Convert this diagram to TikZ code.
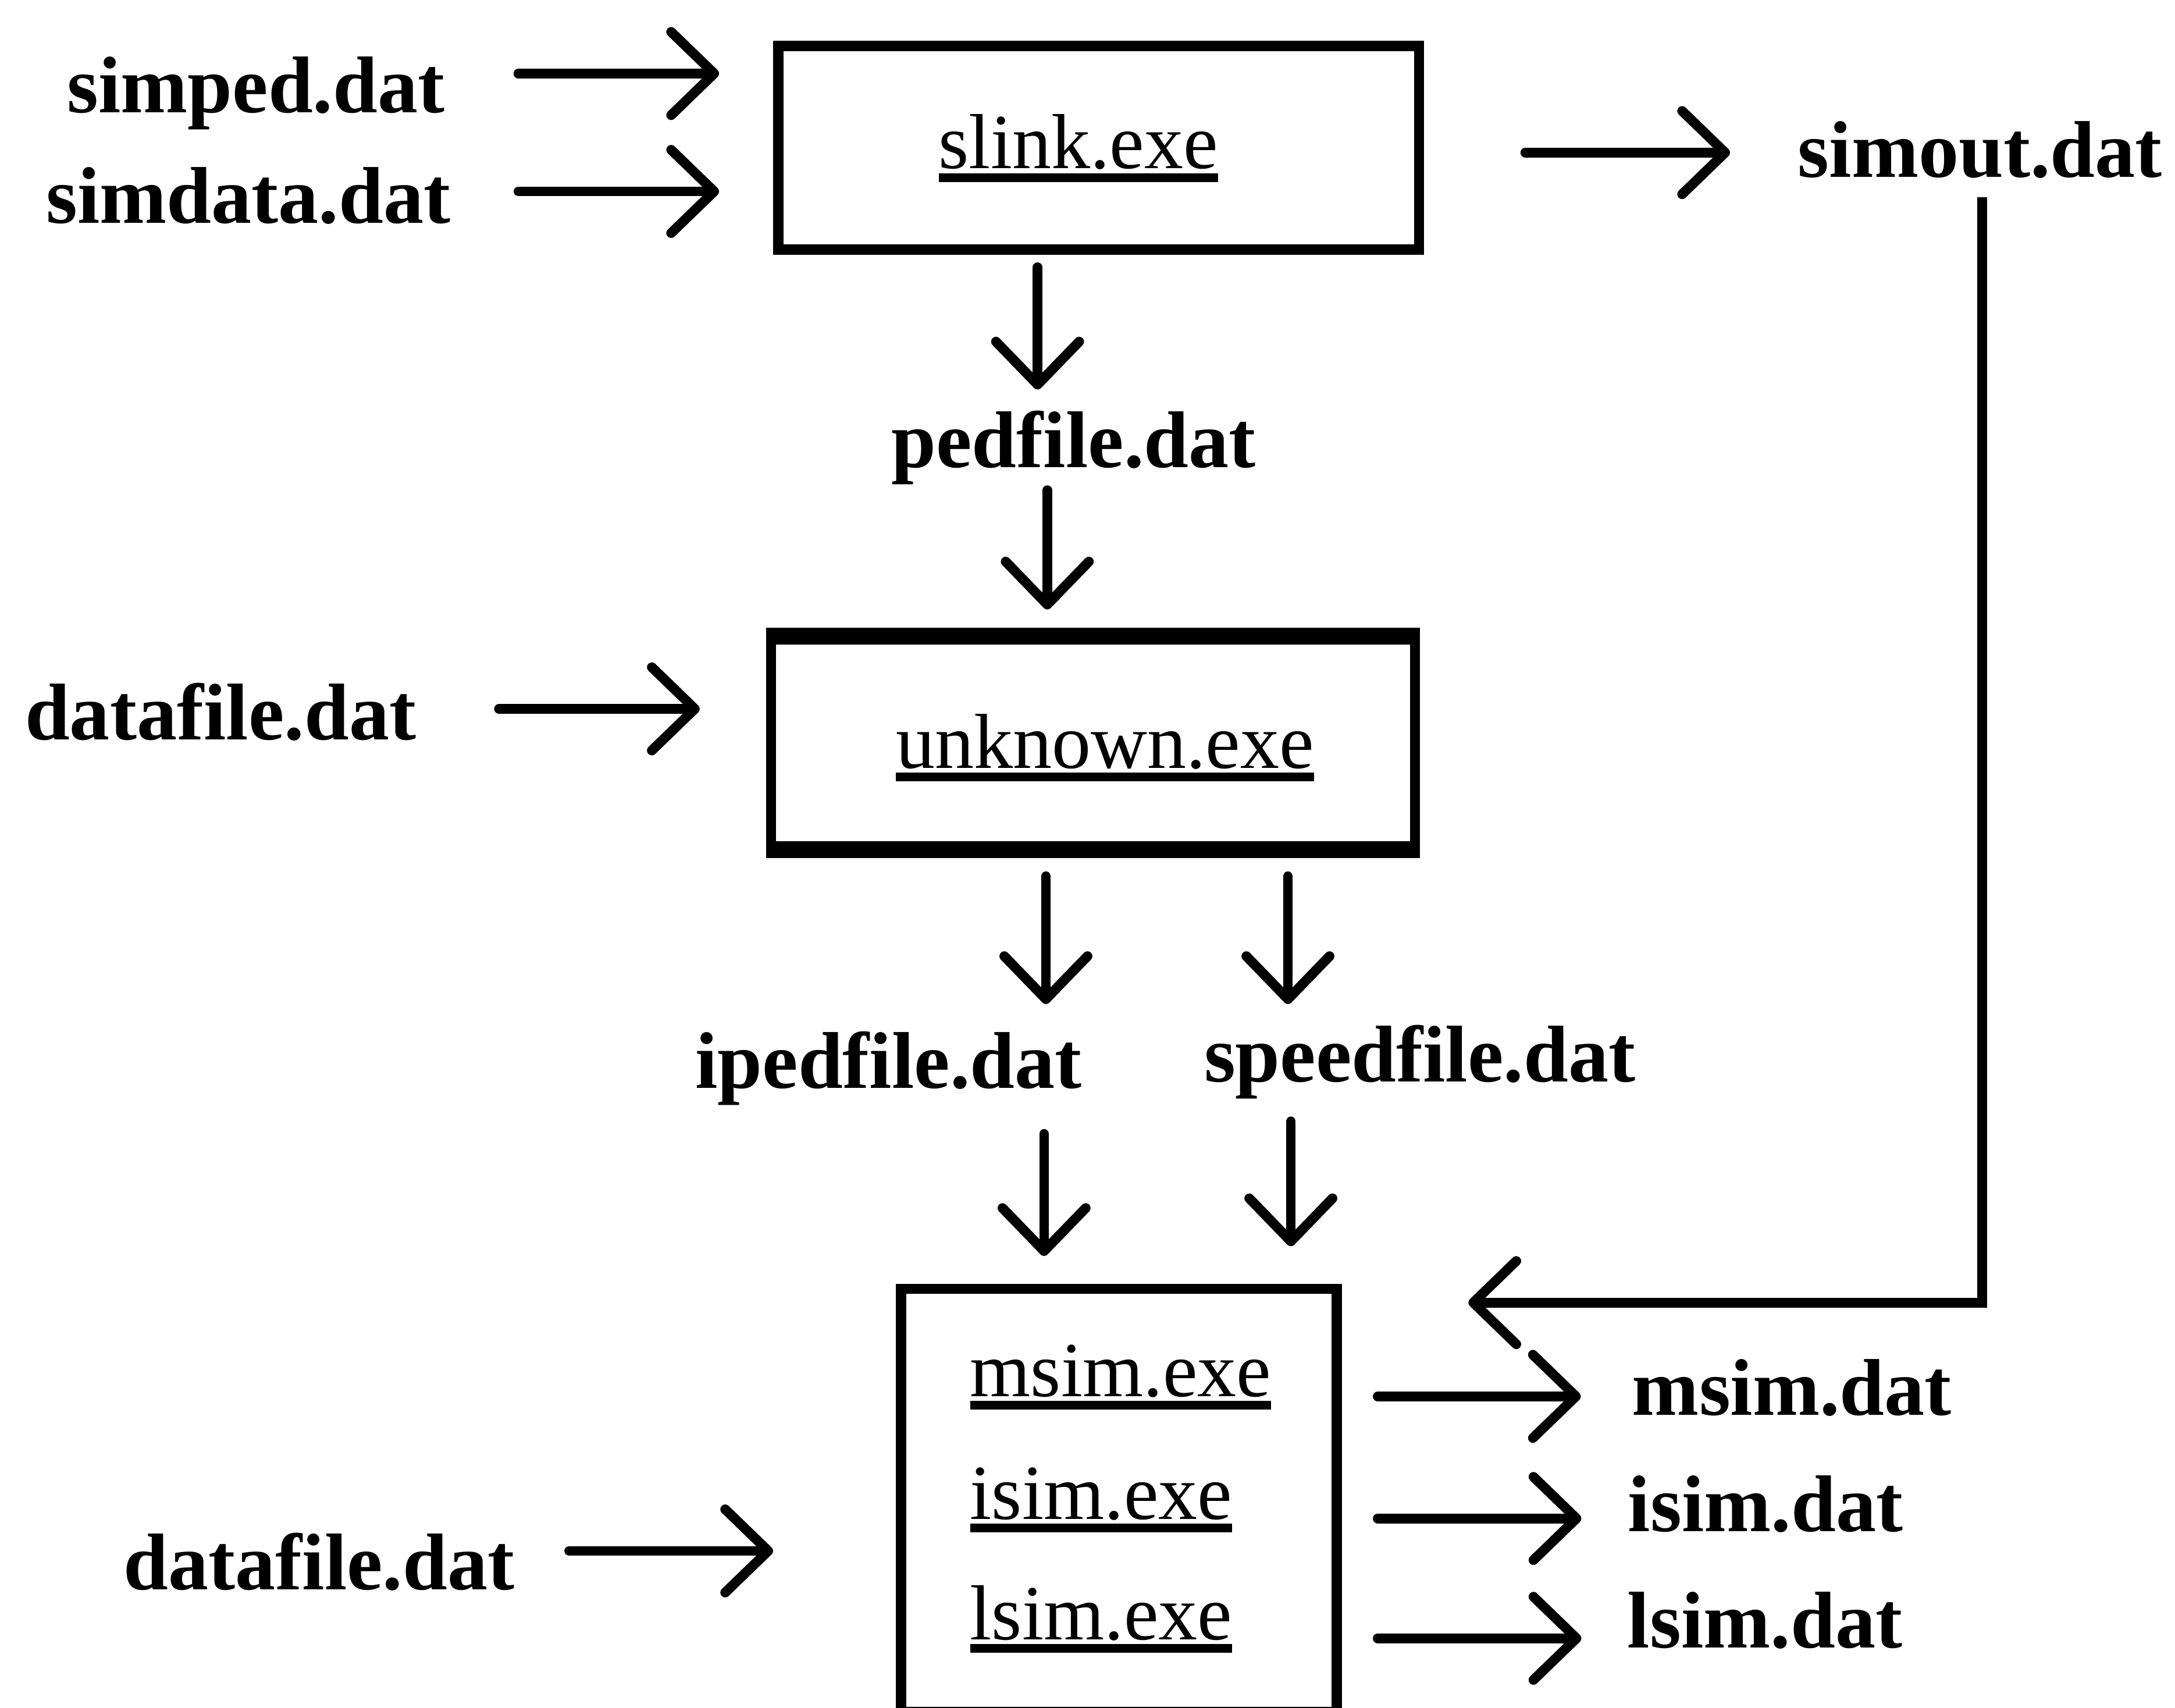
\documentclass[tikz,border=0pt]{standalone}
\usepackage{fontspec}
\setmainfont{Liberation Serif}
\usetikzlibrary{arrows.meta}
% underlined program name
\newcommand\exeul[1]{\setbox0=\hbox{#1}\rlap{\vrule width\wd0 height -1.8pt depth 5.4pt}\box0}

\begin{document}
\begin{tikzpicture}[x=0.02cm,y=-0.02cm,
  file/.style={inner sep=0pt, anchor=base, font=\fontsize{33}{40}\selectfont\bfseries,
               text height=23.1pt, text depth=7.3pt},
  exe/.style={inner sep=0pt, anchor=base, font=\fontsize{32}{38}\selectfont},
  prog/.style={draw, line width=4.2pt, inner sep=0pt},
  flow/.style={line width=4pt, line cap=round,
               -{Straight Barb[length=0.62cm,width=1.2cm,round]}},
]
\useasboundingbox (0,0) rectangle (1568,1231);
\clip (0,0) rectangle (1568,1231);

% ---- programs ----
\node[prog, minimum width=9.24cm, minimum height=2.94cm] (slink) at (792,106.5) {};
\node[exe] (slinktxt) at (777.4,121.6) {\exeul{slink.exe}};

\node[prog, minimum width=9.286cm, minimum height=2.98cm] (unknown) at (787.9,535.5) {};
\draw[line width=5.5pt] (unknown.north west) -- (unknown.north east)
                        (unknown.south west) -- (unknown.south east);
\node[exe] (unknowntxt) at (796.5,553.6) {\exeul{unknown.exe}};

\node[prog, minimum width=6.282cm, minimum height=6.1cm] (msim) at (806.6,1081.5) {};
\node[exe, anchor=base west] (msimexe) at (699,1006.7) {\exeul{msim.exe}};
\node[exe, anchor=base west] (isimexe) at (699,1095) {\exeul{isim.exe}};
\node[exe, anchor=base west] (lsimexe) at (699,1182) {\exeul{lsim.exe}};

% ---- data files ----
\node[file] (simped)    at (184.5,81)   {simped.dat};
\node[file] (simdata)   at (179,161)    {simdata.dat};
\node[file] (simout)    at (1427.5,127.5) {simout.dat};
\node[file] (pedfile)   at (774,337)    {pedfile.dat};
\node[file] (datafileA) at (159,533)    {datafile.dat};
\node[file] (ipedfile)  at (640.6,784.6) {ipedfile.dat};
\node[file] (speedfile) at (1023.5,779.6) {speedfile.dat};
\node[file] (datafileB) at (230,1146)   {datafile.dat};
\node[file, anchor=base west] (msimdat) at (1176.3,1020)  {msim.dat};
\node[file, anchor=base west] (isimdat) at (1173.4,1104)  {isim.dat};
\node[file, anchor=base west] (lsimdat) at (1173,1187.7)  {lsim.dat};

% ---- rows and columns the connectors run along ----
\coordinate (r53)   at (0,53);
\coordinate (r138)  at (0,138);
\coordinate (r110)  at (0,110);
\coordinate (r511)  at (0,511);
\coordinate (r1118) at (0,1118);
\coordinate (r1007) at (0,1006.6);
\coordinate (r1095) at (0,1094.6);
\coordinate (r1181) at (0,1181);
\coordinate (r939)  at (0,939);
\coordinate (c748)  at (748,0);
\coordinate (c755)  at (755,0);
\coordinate (c754)  at (754,0);
\coordinate (c928)  at (928.5,0);
\coordinate (c753)  at (752.7,0);
\coordinate (c930)  at (930.6,0);
\coordinate (c1429) at (1429,0);

% ---- connectors ----
\draw[flow, shorten <=1.056cm, shorten >=0.78cm] (simped.east |- r53) -- (slink.west |- r53);
\draw[flow, shorten <=0.974cm, shorten >=0.78cm] (simdata.east |- r138) -- (slink.west |- r138);
\draw[flow, shorten <=1.46cm, shorten >=0.974cm] (slink.east |- r110) -- (simout.west |- r110);
\draw[flow, shorten <=0.18cm, shorten >=0.306cm] (slink.south -| c748) -- (pedfile.north -| c748);
\draw[flow, shorten <=0.064cm, shorten >=0.36cm] (pedfile.south -| c755) -- (unknown.north -| c755);
\draw[flow, shorten <=1.19cm, shorten >=0.954cm] (datafileA.east |- r511) -- (unknown.west |- r511);
\draw[flow, shorten <=0.36cm, shorten >=0.398cm] (unknown.south -| c754) -- (ipedfile.north -| c754);
\draw[flow, shorten <=0.36cm, shorten >=0.298cm] (unknown.south -| c928) -- (speedfile.north -| c928);
\draw[flow, shorten <=0.392cm, shorten >=0.4cm] (ipedfile.south -| c753) -- (msim.north -| c753);
\draw[flow, shorten <=0.312cm, shorten >=0.54cm] (speedfile.south -| c930) -- (msim.north -| c930);
\draw[flow, shorten <=0.782cm, shorten >=1.772cm] (datafileB.east |- r1118) -- (msim.west |- r1118);
\draw[flow, shorten <=0.518cm, shorten >=0.734cm] (msim.east |- r1007) -- (msimdat.west |- r1007);
\draw[flow, shorten <=0.518cm, shorten >=0.668cm] (msim.east |- r1095) -- (isimdat.west |- r1095);
\draw[flow, shorten <=0.518cm, shorten >=0.66cm] (msim.east |- r1181) -- (lsimdat.west |- r1181);
\draw[flow, line cap=butt, shorten <=0.03cm, shorten >=1.826cm]
  (simout.south -| c1429) -- (c1429 |- r939) -- (msim.east |- r939);
\end{tikzpicture}
\end{document}
